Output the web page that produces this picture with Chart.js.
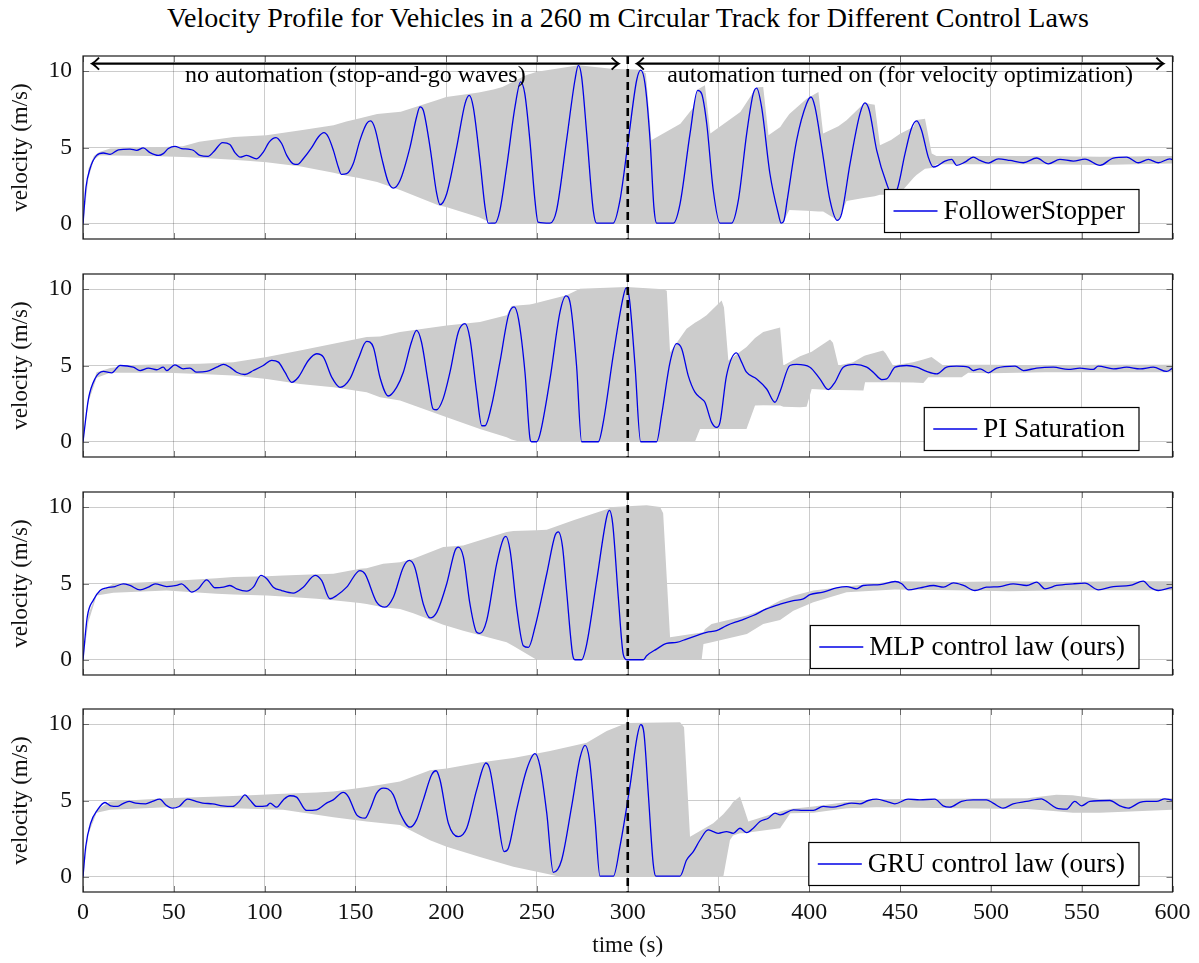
<!DOCTYPE html>
<html>
<head>
<meta charset="utf-8">
<script src="https://cdn.jsdelivr.net/npm/chart.js@4.4.1/dist/chart.umd.min.js"></script>
<style>
html,body{margin:0;padding:0;background:#fff;}
body{width:1199px;height:963px;position:relative;overflow:hidden;font-family:"Liberation Serif","Times New Roman",serif;}
#title{position:absolute;left:83px;width:1090px;top:3px;text-align:center;font-size:28px;line-height:30px;color:#000;white-space:nowrap;}
.panel{position:absolute;left:0;}
canvas{display:block;}
</style>
</head>
<body>
<div id="title">Velocity Profile for Vehicles in a 260 m Circular Track for Different Control Laws</div>
<div class="panel" style="top:50px"><canvas id="c0" width="1199" height="195"></canvas></div>
<div class="panel" style="top:268px"><canvas id="c1" width="1199" height="195"></canvas></div>
<div class="panel" style="top:486px"><canvas id="c2" width="1199" height="195"></canvas></div>
<div class="panel" style="top:703px"><canvas id="c3" width="1199" height="260"></canvas></div>
<script>
// ---------------- data ----------------
const xTickValues = [0, 50, 100, 150, 200, 250, 300, 350, 400, 450, 500, 550, 600];
const yTickValues = [0, 5, 10];
const switchTime = 300;
const seriesLabels = ['FollowerStopper', 'PI Saturation', 'MLP control law (ours)', 'GRU control law (ours)'];
const arrowSpans = [[5, 295], [305, 595]];
const arrowLevel = 10.5;
const noteTexts = ['no automation (stop-and-go waves)', 'automation turned on (for velocity optimization)'];
const noteTimes = [150, 450];
const noteLevel = 9.72;

// FollowerStopper
const fsTime = [0,1.65,3.85,7.5,11.2,14.9,19.5,25.9,29.6,33.2,36.9,41.5,44.2,47,50.6,54.3,58,60.7,64.4,69,71.8,76.9,80.9,83.7,86.5,90.1,95.6,99.3,102.6,106.3,109.4,112.2,115.8,118.2,121.3,125.9,129.6,132.7,135.1,137.9,140.6,142.3,145.2,148.8,152.5,156.2,158.4,160.8,164.4,168.1,170.9,174.6,180.1,183.7,185.6,187.4,191.1,194.8,196.6,200.3,205.8,210.4,212.7,214.9,218.6,221.4,223.2,226.9,229.6,233.3,237.9,241,243.3,246.1,248.9,250.6,257.2,260.8,266.3,270.9,272.8,274.6,277.4,281,282.9,292,295.7,300.3,304.9,307.1,309.5,312.3,314.4,315.9,325.1,328.8,334.3,338.5,340.7,343.5,347.1,350.8,357.2,360.9,365.5,369.1,371,373.7,378.3,382.9,384.5,386,387.8,393,398.5,400.9,403.1,406.8,411.4,415.4,417.8,422.4,427.9,430.6,433,437.1,442.6,445.3,448.1,452.7,456.2,459.1,461.8,465.5,468.3,471,474.7,478.4,481.1,485.7,490.3,494,498.6,504.1,510.5,517.9,525.2,531.6,538,545.4,551.8,560.1,567.4,574.8,581.2,586.7,592.2,598.6,600];
const fsSpeed = [0,2.4,3.61,4.48,4.64,4.55,4.85,4.9,4.81,4.97,4.66,4.48,4.6,4.93,5.08,4.93,4.89,4.82,4.48,4.42,4.7,5.32,5.2,4.66,4.37,4.48,4.26,4.7,5.37,5.65,5.26,4.48,3.93,3.89,4.26,4.99,5.69,5.97,5.69,4.81,3.72,3.24,3.28,3.93,5.47,6.56,6.74,6.24,4.37,2.73,2.34,2.84,5.03,7.0,7.66,7.44,5.03,1.97,1.25,1.97,5.03,7.88,8.42,7.66,4.15,1.09,0.04,0.04,0.88,3.72,7.66,9.3,8.53,5.47,1.53,0.11,0.04,0.88,5.47,9.41,10.39,9.63,5.91,0.88,0.04,0.04,1.53,5.47,9.41,10.07,9.19,5.47,1.09,0.04,0.04,1.31,5.91,8.75,8.53,6.56,2.18,0.04,0.04,1.53,5.91,8.53,8.9,7.66,3.28,0.66,0.04,0.2,1.53,5.47,7.88,8.31,7.66,5.03,1.53,0.22,0.66,3.93,7.22,7.92,7.44,4.81,2.62,1.97,2.18,4.6,6.24,6.74,6.13,4.37,3.72,3.83,4.11,4.22,3.83,4.04,4.37,4.15,3.98,4.26,4.15,4.0,4.31,3.93,4.22,4.11,4.24,3.83,4.31,4.37,4.0,4.22,4.0,4.26,4.2];
const fsBandTime = [0,3,6,9,15,37,55,64,83,101,120,138,145,152,162,175,196,200,218,226,231,244,250,273,291,307,310,313,329,336,338.5,342.5,345.5,362,369,371,374.6,377.5,384,386,389,398.5,405,407.6,416,420.5,430.6,433.4,436,438.9,445,450,457.3,459,463.7,467.4,470,500,530,560,600];
const fsUpper = [0,3.6,4.45,4.7,4.93,5.0,5.08,5.37,5.69,5.8,6.13,6.46,6.7,6.9,7.19,7.34,8.15,8.31,8.6,8.8,8.97,9.74,9.96,10.39,10.17,10.1,9.85,5.47,6.56,7.6,8.8,9.08,5.91,7.33,8.6,8.95,8.97,5.8,6.35,6.7,7.2,8.2,8.64,5.91,6.4,6.78,7.95,7.85,7.8,5.14,5.5,5.9,6.35,6.8,6.89,4.6,4.45,4.45,4.45,4.4,4.45];
const fsLower = [0,3.0,4.2,4.48,4.48,4.45,4.38,4.33,4.2,4.04,3.76,3.35,3.15,3.0,2.73,2.2,1.2,1.1,0.42,0,0,0,0,0,0,0,0,0,0,0,0,0,0,0,0,0,0,0,0,0.2,0.9,0.85,0.8,0.8,0.2,1.5,1.7,1.75,1.8,1.9,1.9,2.0,3.0,3.2,3.6,3.65,3.9,3.9,3.9,3.85,3.95];

// PI Saturation
const piTime = [0,3,6.6,11.2,15.8,20.4,27.7,31.4,36,40.6,44.2,46.1,50.6,55.2,58.9,62.6,68.1,73.6,77.3,80.9,84.6,89.2,93.8,99.3,103.9,107.6,111.2,114.9,118.6,124.1,128.7,132.4,137,141.5,147,151.6,156.2,159.9,163.6,168.1,172.7,176.4,180.9,183.7,186.4,190.1,192.8,194.7,198.3,202.1,206.7,210.4,213.1,216.8,219.6,221.4,225,229.6,234.3,237.4,239.8,243.4,246.2,247,249.8,251.7,257.2,262.7,266,268.5,271.8,274.6,283.8,286.5,292,297.5,299.1,300.9,304,307.1,315.9,318.6,323.3,326.9,329.7,333.3,337,340.7,342.5,346.2,348.9,350.8,354.4,359.9,362.7,365.4,371,376.5,381.1,383.9,389.3,393,400.3,405.8,410.4,414.1,418.7,425.1,431.6,435.2,439.9,442.6,447.2,453.6,459.1,464.6,470.1,475.6,481.1,487.5,490.3,494,498.6,503.2,513.3,517.9,525.2,534.4,542.6,549,556.4,559.1,567.4,574.8,582.1,589.4,596.8,600];
const piSpeed = [0,2.81,4.13,4.61,4.52,5.0,4.89,4.67,4.83,4.72,4.89,4.67,5.04,4.78,4.83,4.56,4.61,4.89,5.07,4.89,4.56,4.41,4.67,5.0,5.33,5.22,4.56,3.9,4.23,5.33,5.77,5.55,4.23,3.57,4.12,5.44,6.58,6.2,4.2,3.0,3.57,4.56,6.54,7.3,6.54,3.9,2.15,2.1,2.81,4.56,7.2,7.74,6.76,3.25,1.05,1.05,2.37,5.22,8.29,8.84,8.07,4.56,0.18,0,0,0.5,4.12,8.51,9.56,8.95,5.0,0,0,1.27,5.66,9.5,10.09,9.39,5.0,0,0,1.71,5.22,6.43,6.1,4.34,3.25,2.81,2.59,1.27,0.94,1.27,4.34,5.83,5.22,4.56,4.12,3.46,2.59,3.3,5.0,5.07,4.89,4.12,3.42,3.9,4.89,5.07,4.89,4.56,4.08,4.12,4.89,5.0,4.89,4.61,4.45,4.89,4.96,4.89,4.67,4.78,4.52,4.83,4.96,4.67,4.83,4.89,4.74,4.83,4.74,4.96,4.78,4.89,4.78,4.89,4.61,4.83];
const piBandTime = [0,3,7.5,15,27.7,46,64.4,82.8,101.2,119.5,137.9,156.2,163.6,174.6,200.3,218.6,233.3,236,240.6,246,248,266.3,273.7,299.4,319.6,321.5,323.3,332.4,337,339.8,343.4,351.7,353,355.4,365.4,370.1,374.6,383.9,385.7,394.9,398.5,401.3,411.4,413,416,424.1,429.8,430.7,440.6,442,446.1,457.1,462.8,465.5,467.3,473.7,483.9,487.5,500,530,560,600];
const piUpper = [0,3.0,4.56,4.83,5.04,5.08,5.11,5.22,5.55,5.99,6.43,6.87,6.9,7.2,7.62,7.85,8.3,8.9,8.95,9.0,9.05,9.6,10.04,10.15,10.0,9.9,5.87,7.41,7.8,8.0,8.29,9.27,8.8,5.33,6.21,6.8,7.2,7.5,5.0,5.6,5.77,5.9,6.71,6.5,5.0,5.22,5.6,5.65,5.99,5.8,5.0,5.22,5.4,5.5,5.55,5.0,5.05,5.05,5.05,5.0,5.05,5.05];
const piLower = [0,2.6,4.2,4.52,4.52,4.52,4.45,4.34,4.12,3.79,3.57,3.25,2.92,2.7,1.6,0.83,0.3,0.15,0,0,0,0,0,0,0,0,0,0,0,0.83,0.83,0.83,0.83,0.83,0.83,2.37,2.4,2.37,2.3,2.26,2.3,3.46,3.4,3.4,3.4,3.38,3.36,3.9,3.9,3.9,3.9,3.88,3.86,4.23,4.23,4.23,4.23,4.52,4.5,4.55,4.55,4.55];

// MLP control law
const mlpTime = [0,2.4,5.7,9.4,13,17.6,22.2,25.9,31.4,36,39.7,46.1,51.6,54.3,57.1,59.8,63.5,68.1,72.7,77.3,80.9,84.6,90.1,93.8,98,101.2,104.8,109.4,115.8,121.3,127.8,131.4,136,139.7,145.2,152.5,155.3,161.7,166.3,170.9,176.4,179.7,182.7,187.4,191.1,194.8,200.3,204.9,206.7,209.5,213.1,216.8,218.6,222.3,227.8,231.5,232.9,235.2,238.8,242.5,245.3,248.9,255.4,260,261.8,264.1,266.3,269.6,270.9,274.6,277.4,282.9,288.4,289.9,291.7,294.8,297.5,299.4,308.6,310.4,315.9,321.4,326.9,332.4,337.9,343.4,348.9,354.4,361.8,369.1,376.4,383.9,391.2,396.7,400.3,407.6,415,420.5,426,429.6,438.9,447.2,450.9,454.6,461,468.4,473.9,479.4,484.9,491.2,497.6,505,512.3,519.7,525.2,529.8,536.2,545.4,551.8,559.2,567.4,576.6,583.9,587.6,592.2,598.6,600];
const mlpSpeed = [0,2.84,3.91,4.54,4.72,4.8,4.98,4.87,4.58,4.76,4.98,4.8,4.87,4.98,4.72,4.43,4.65,5.24,4.72,4.76,4.87,4.65,4.5,4.76,5.53,5.31,4.76,4.54,4.37,4.76,5.53,5.2,4.0,4.21,4.76,5.85,5.63,3.78,3.45,4.1,6.07,6.51,6.07,3.66,2.74,3.11,4.98,7.17,7.39,6.73,3.66,1.8,1.73,2.57,6.29,7.94,8.09,7.17,3.44,0.92,0.81,2.13,5.64,8.16,8.38,7.39,4.54,0.37,0,0,1.03,5.2,9.36,9.8,8.93,4.1,0.37,0,0,0.26,0.7,1.07,1.14,1.36,1.58,1.8,1.91,2.24,2.57,2.9,3.33,3.64,3.88,3.99,4.27,4.43,4.71,4.8,4.65,4.87,4.93,5.13,4.98,4.58,4.71,4.87,4.76,5.04,4.87,4.54,4.76,4.8,4.98,4.87,5.09,4.65,4.87,4.98,5.02,4.58,4.8,4.87,5.15,4.76,4.54,4.71,4.73];
const mlpBandTime = [0,3,7.5,16.7,46,73.6,82.8,101.2,110.3,128.7,137.9,152.5,156.2,165.3,174.6,181.9,198.4,209.4,233.3,237,249.8,255.4,270.1,292.1,310.4,317.8,319.5,323.3,340.7,341.7,342.5,346.2,365.6,374.6,383.9,391.2,402.2,420.5,447,480,510,540,570,600];
const mlpUpper = [0,3.0,4.32,4.98,5.15,5.35,5.42,5.48,5.53,5.6,5.64,5.96,6.0,6.29,6.4,6.62,7.39,7.5,8.38,8.45,8.5,8.53,9.14,10.02,10.13,10.02,9.6,1.47,1.78,1.8,2.0,2.35,2.9,3.3,3.88,4.2,4.54,4.8,5.15,5.1,5.15,5.1,5.15,5.15];
const mlpLower = [0,2.5,4.21,4.4,4.54,4.32,4.28,4.21,4.15,4.0,3.9,3.72,3.66,3.45,3.33,3.05,2.3,1.9,1.15,0.9,0,0,0,0,0,0,0,0,0,1.03,1.05,1.14,1.69,2.35,2.6,3.22,3.77,4.43,4.6,4.55,4.5,4.55,4.55,4.55];

// GRU control law
const gruTime = [0,1.5,4.2,8,12.1,15.3,19,21.7,25.4,29,34.5,38.2,42.3,45.5,49.2,52.9,57.6,62.2,65.9,71.4,76.9,82.4,86,89.2,91.9,95.6,101.2,103,106.7,110.3,114,117.6,123.1,128.6,134.1,137.8,143.3,146.1,150.7,155.3,158,161.7,165.4,168,170.9,174.6,180.1,183.7,187.4,192,194.4,196.6,201.2,206.7,211.3,216.8,221.9,224.1,227.8,231.9,234.2,238.8,244.3,248.9,251.7,255.4,259,263.6,269.1,273.7,276.5,278.9,282,284.7,292.1,295.7,301.2,305.2,307.1,308.9,311.3,314,315.5,328.8,332.4,336.1,339.8,344.3,347.1,349.9,354.4,358.1,361.8,365.5,369.1,372.8,377.4,381.1,383.9,391.2,396.7,402.2,407.6,413.1,418.6,423.2,427.8,432.4,437,442.5,447.1,454.4,460.8,469.1,473.7,477.3,483.8,490.2,497.5,501.2,506.7,512.2,519.6,527.8,530.6,536.1,541.6,546.2,549.9,554.5,565.5,571,575.6,582,585.7,591.2,595.8,599,600];
const gruSpeed = [0,1.97,3.51,4.39,4.87,4.65,4.61,4.78,4.94,4.83,4.78,4.94,5.09,4.72,4.5,4.61,5.09,4.94,4.83,4.78,4.65,4.61,4.94,5.37,5.04,4.61,4.65,4.83,4.56,5.04,5.31,5.22,4.35,4.39,4.83,5.04,5.53,5.26,4.06,3.84,4.39,5.48,5.81,5.75,5.37,4.17,3.25,3.73,5.04,6.69,6.95,6.36,3.51,2.63,3.18,5.7,7.46,7.02,4.39,1.65,1.86,4.39,7.02,8.07,7.24,4.17,0.29,1.1,4.61,7.79,8.62,7.68,3.73,0.04,0.04,1.97,5.92,9.21,9.98,9.43,5.48,0.88,0.04,0.04,1.1,1.65,2.41,3.07,2.96,2.85,2.96,2.85,3.18,2.89,3.18,3.62,3.84,4.17,4.06,4.39,4.35,4.35,4.61,4.56,4.72,4.83,4.78,5.0,5.09,4.94,4.78,5.09,5.04,5.09,4.65,4.56,4.94,5.04,5.04,4.83,4.5,4.78,4.94,5.11,4.94,4.5,4.43,4.94,4.65,4.94,5.0,4.65,4.5,4.87,4.94,4.94,5.11,5.04,5.02];
const gruBandTime = [0,3,7.5,14.9,45.9,82.8,110.3,128.7,137.9,156.2,174.6,191.1,200.3,218.6,237,257.2,262.7,277.4,288.4,299.4,328.8,331,334.3,347.1,352.6,356.3,358,361.8,364,366.4,383.9,389.5,402.2,420.5,437,480,520,536,545,560,600];
const gruUpper = [0,3.2,4.39,4.94,5.15,5.3,5.44,5.52,5.59,5.88,6.25,6.98,7.1,7.5,7.79,8.24,8.4,8.79,9.56,10.09,10.13,9.8,2.63,3.51,4.1,4.6,4.9,5.26,4.5,3.62,4.28,4.45,4.61,4.9,5.09,5.12,5.15,5.37,5.35,5.1,5.15];
const gruLower = [0,2.8,4.2,4.4,4.56,4.5,4.39,4.06,3.9,3.62,3.4,2.4,1.97,1.3,0.66,0.15,0,0,0,0,0,0,0,0,0,2.41,2.7,2.85,2.85,2.9,3.18,4.17,4.2,4.5,4.55,4.5,4.45,4.3,4.2,4.2,4.4];

// ---------------- drawing ----------------
const FONT = '"Liberation Serif", "Times New Roman", serif';
const BLUE = '#0000e6';
const BAND = '#cccccc';

function pts(t, v) { return t.map((x, i) => ({x: x, y: v[i]})); }

const decor = {
  id: 'decor',
  afterDraw(chart, args, o) {
    const ctx = chart.ctx, a = chart.chartArea, xs = chart.scales.x, ys = chart.scales.y;
    ctx.save();
    // inner tick marks
    ctx.strokeStyle = 'rgba(0,0,0,0.5)';
    ctx.lineWidth = 1;
    ctx.beginPath();
    xTickValues.forEach(v => {
      const p = Math.round(xs.getPixelForValue(v)) + 0.5;
      ctx.moveTo(p, a.bottom); ctx.lineTo(p, a.bottom - 6);
      ctx.moveTo(p, a.top); ctx.lineTo(p, a.top + 6);
    });
    yTickValues.forEach(v => {
      const p = Math.round(ys.getPixelForValue(v)) + 0.5;
      ctx.moveTo(a.left, p); ctx.lineTo(a.left + 6, p);
      ctx.moveTo(a.right, p); ctx.lineTo(a.right - 6, p);
    });
    ctx.stroke();
    // switch line
    const sx = xs.getPixelForValue(switchTime);
    ctx.strokeStyle = '#000';
    ctx.lineWidth = 2.6;
    ctx.setLineDash([8, 5]);
    ctx.beginPath(); ctx.moveTo(sx, a.top); ctx.lineTo(sx, a.bottom); ctx.stroke();
    ctx.setLineDash([]);
    // frame
    ctx.strokeStyle = '#1a1a1a';
    ctx.lineWidth = 1.2;
    ctx.strokeRect(a.left, a.top, a.right - a.left, a.bottom - a.top);
    // annotations
    if (o.notes) {
      const y = ys.getPixelForValue(arrowLevel);
      ctx.strokeStyle = '#000';
      arrowSpans.forEach(sp => {
        const x0 = xs.getPixelForValue(sp[0]), x1 = xs.getPixelForValue(sp[1]);
        ctx.lineWidth = 2.2;
        ctx.beginPath(); ctx.moveTo(x0 + 1, y); ctx.lineTo(x1 - 1, y); ctx.stroke();
        ctx.lineWidth = 2;
        ctx.beginPath();
        ctx.moveTo(x0 + 7, y - 6); ctx.quadraticCurveTo(x0 + 2, y - 1, x0, y); ctx.quadraticCurveTo(x0 + 2, y + 1, x0 + 7, y + 6);
        ctx.moveTo(x1 - 7, y - 6); ctx.quadraticCurveTo(x1 - 2, y - 1, x1, y); ctx.quadraticCurveTo(x1 - 2, y + 1, x1 - 7, y + 6);
        ctx.stroke();
      });
      ctx.fillStyle = '#000';
      ctx.font = '24px ' + FONT;
      ctx.textAlign = 'center';
      ctx.textBaseline = 'middle';
      noteTexts.forEach((s, i) => ctx.fillText(s, xs.getPixelForValue(noteTimes[i]), ys.getPixelForValue(noteLevel)));
    }
    // legend
    ctx.font = '27px ' + FONT;
    const w = ctx.measureText(o.label).width;
    const right = a.right - 33.5, bottom = a.bottom - 6.5, top = bottom - 43;
    const tr = right - 14, tl = tr - w, lr = tl - 6, ll = lr - 44, left = ll - 9;
    ctx.fillStyle = '#fff';
    ctx.fillRect(left, top, right - left, bottom - top);
    ctx.strokeStyle = '#000';
    ctx.lineWidth = 1.2;
    ctx.strokeRect(left, top, right - left, bottom - top);
    const cy = (top + bottom) / 2;
    ctx.strokeStyle = BLUE;
    ctx.lineWidth = 1.3;
    ctx.beginPath(); ctx.moveTo(ll, cy); ctx.lineTo(lr, cy); ctx.stroke();
    ctx.fillStyle = '#000';
    ctx.textAlign = 'left';
    ctx.textBaseline = 'middle';
    ctx.fillText(o.label, tl, cy + 1);
    ctx.restore();
  }
};

const panels = [
  {id: 'c0', t: fsTime, v: fsSpeed, bt: fsBandTime, up: fsUpper, lo: fsLower, label: seriesLabels[0], notes: true, bottom: false},
  {id: 'c1', t: piTime, v: piSpeed, bt: piBandTime, up: piUpper, lo: piLower, label: seriesLabels[1], notes: false, bottom: false},
  {id: 'c2', t: mlpTime, v: mlpSpeed, bt: mlpBandTime, up: mlpUpper, lo: mlpLower, label: seriesLabels[2], notes: false, bottom: false},
  {id: 'c3', t: gruTime, v: gruSpeed, bt: gruBandTime, up: gruUpper, lo: gruLower, label: seriesLabels[3], notes: false, bottom: true}
];

panels.forEach(p => {
  new Chart(document.getElementById(p.id), {
    type: 'line',
    data: {
      datasets: [
        {data: pts(p.t, p.v), borderColor: BLUE, borderWidth: 1.3, pointRadius: 0, fill: false, cubicInterpolationMode: 'monotone'},
        {data: pts(p.bt, p.up), borderColor: 'rgba(0,0,0,0)', borderWidth: 0, pointRadius: 0, backgroundColor: BAND, fill: '+1', tension: 0},
        {data: pts(p.bt, p.lo), borderColor: 'rgba(0,0,0,0)', borderWidth: 0, pointRadius: 0, fill: false, tension: 0}
      ]
    },
    options: {
      responsive: false,
      animation: false,
      events: [],
      layout: {padding: {left: 0, right: 26.5, top: 6, bottom: p.bottom ? 0 : 6}},
      plugins: {legend: {display: false}, tooltip: {enabled: false}, decor: {label: p.label, notes: p.notes}},
      scales: {
        x: {
          type: 'linear', min: 0, max: 600, z: 1,
          afterBuildTicks: s => { s.ticks = xTickValues.map(v => ({value: v})); },
          afterFit: s => { s.height = p.bottom ? 71 : 0; s.paddingLeft = 0; s.paddingRight = 0; },
          grid: {color: 'rgba(0,0,0,0.2)', lineWidth: 1, drawTicks: false},
          border: {display: false},
          ticks: {display: p.bottom, font: {family: FONT, size: 24}, color: '#111', padding: 6, maxRotation: 0, autoSkip: false},
          title: {display: p.bottom, text: 'time (s)', font: {family: FONT, size: 23}, color: '#111', padding: {top: 0, bottom: 3}}
        },
        y: {
          type: 'linear', min: -1, max: 11, z: 1,
          afterBuildTicks: s => { s.ticks = yTickValues.map(v => ({value: v})); },
          afterFit: s => { s.width = 83; s.paddingTop = 0; s.paddingBottom = 0; },
          grid: {color: 'rgba(0,0,0,0.2)', lineWidth: 1, drawTicks: false},
          border: {display: false},
          ticks: {font: {family: FONT, size: 23.5}, color: '#111', padding: 11},
          title: {display: true, text: 'velocity (m/s)', font: {family: FONT, size: 23}, color: '#111', padding: {top: 7, bottom: 0}}
        }
      }
    },
    plugins: [decor]
  });
});
</script>
</body>
</html>
